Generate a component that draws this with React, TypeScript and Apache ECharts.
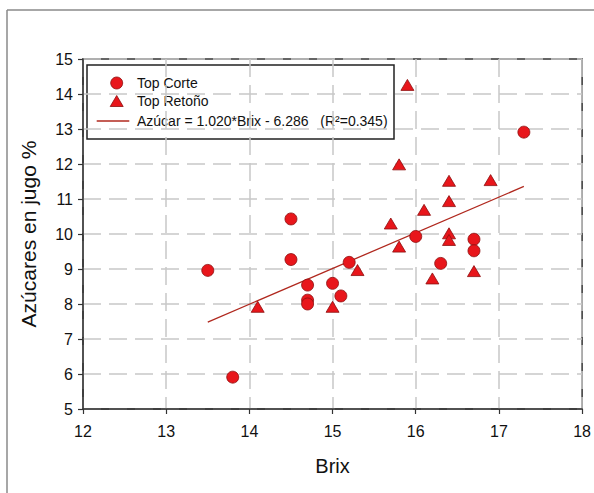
import React, { useEffect, useRef } from "react";
import * as echarts from "echarts";

// Top Corte samples: Brix and juice sugar (%)
const corteBrix = [13.5, 13.8, 14.5, 14.5, 14.7, 14.7, 14.7, 15.0, 15.1, 15.2, 16.0, 16.3, 16.7, 16.7, 17.3];
const corteAzucar = [8.96, 5.91, 10.43, 9.27, 8.54, 8.11, 8.0, 8.59, 8.23, 9.19, 9.93, 9.16, 9.85, 9.52, 12.91];

// Top Retoño samples
const retonoBrix = [14.1, 15.0, 15.3, 15.7, 15.8, 15.8, 15.9, 16.1, 16.2, 16.4, 16.4, 16.4, 16.4, 16.7, 16.9];
const retonoAzucar = [7.92, 7.92, 8.97, 10.3, 11.99, 9.64, 14.26, 10.69, 8.73, 11.52, 10.94, 10.02, 9.83, 8.94, 11.54];

// Fitted regression: Azúcar = slope * Brix + intercept, drawn over the Brix range of the data
const slope = 1.02;
const intercept = -6.286;
const fitRange = [13.5, 17.3];

const legendLabels = ["Top Corte", "Top Retoño", "Azúcar = 1.020*Brix - 6.286   (R²=0.345)"];

const FONT = "'Liberation Sans', Arial, Helvetica, sans-serif";
const AXIS_COLOR = "#333333";
const GRID_COLOR = "#c8c8c8";
const RED = "#e8161b";
const RED_EDGE = "#8c0f0f";
const FIT_COLOR = "#b0281e";

export default function App() {
  const ref = useRef<HTMLDivElement>(null);

  useEffect(() => {
    if (!ref.current) return;
    const chart = echarts.init(ref.current, undefined, { renderer: "svg" });

    const corteData = corteBrix.map((x, i) => [x, corteAzucar[i]]);
    const retonoData = retonoBrix.map((x, i) => [x, retonoAzucar[i]]);
    const fitData = fitRange.map((x) => [x, slope * x + intercept]);

    const axisCommon = {
      type: "value" as const,
      nameLocation: "middle" as const,
      axisLine: { show: true, lineStyle: { color: AXIS_COLOR, width: 1.5 } },
      axisTick: { show: true, length: 5, lineStyle: { color: AXIS_COLOR, width: 1.2 } },
      axisLabel: { fontSize: 16, color: "#111", fontFamily: FONT },
      splitLine: { show: true, lineStyle: { color: GRID_COLOR, width: 1.5, type: [18, 8] } },
    };

    // Boxed legend in the upper-left corner of the plot
    const lx = 87;
    const ly = 65;
    const iconX = 116.7;
    const textX = 137;
    const rowY = [83, 101, 121];
    const legendText = (i: number) => ({
      type: "text",
      x: textX,
      y: rowY[i],
      style: {
        text: legendLabels[i],
        fill: "#111",
        fontSize: 14,
        fontFamily: FONT,
        verticalAlign: "middle",
        align: "left",
      },
    });

    chart.setOption({
      animation: false,
      backgroundColor: "#ffffff",
      textStyle: { fontFamily: FONT },
      graphic: [
        { type: "line", shape: { x1: 7, y1: 10, x2: 600, y2: 10 }, style: { stroke: "#8a8a8a", lineWidth: 1.5 } },
        { type: "line", shape: { x1: 7, y1: 10, x2: 7, y2: 500 }, style: { stroke: "#8a8a8a", lineWidth: 1.5 } },
        {
          type: "group",
          z: 100,
          children: [
            {
              type: "rect",
              shape: { x: lx, y: ly, width: 307, height: 74 },
              style: { fill: "#ffffff", stroke: "#222222", lineWidth: 1.5 },
            },
            {
              type: "circle",
              shape: { cx: iconX, cy: rowY[0], r: 6 },
              style: { fill: RED, stroke: RED_EDGE, lineWidth: 0.8 },
            },
            {
              type: "polygon",
              shape: {
                points: [
                  [iconX, rowY[1] - 5.5],
                  [iconX + 6.5, rowY[1] + 5.5],
                  [iconX - 6.5, rowY[1] + 5.5],
                ],
              },
              style: { fill: RED, stroke: RED_EDGE, lineWidth: 0.8 },
            },
            {
              type: "line",
              shape: { x1: 96.7, y1: rowY[2], x2: 129.3, y2: rowY[2] },
              style: { stroke: FIT_COLOR, lineWidth: 1.3 },
            },
            legendText(0),
            legendText(1),
            legendText(2),
          ],
        },
      ],
      grid: {
        left: 83,
        right: 11,
        top: 59,
        bottom: 84,
        show: true,
        borderColor: AXIS_COLOR,
        borderWidth: 1.5,
        backgroundColor: "transparent",
      },
      xAxis: {
        ...axisCommon,
        min: 12,
        max: 18,
        interval: 1,
        name: "Brix",
        nameGap: 47,
        nameTextStyle: { fontSize: 20, color: "#111", fontFamily: FONT },
        axisLabel: { ...axisCommon.axisLabel, margin: 14 },
      },
      yAxis: {
        ...axisCommon,
        min: 5,
        max: 15,
        interval: 1,
        name: "Azúcares en jugo %",
        nameGap: 44,
        nameTextStyle: { fontSize: 21, color: "#111", fontFamily: FONT },
        axisLabel: { ...axisCommon.axisLabel, margin: 10 },
      },
      series: [
        {
          name: legendLabels[0],
          type: "scatter",
          symbol: "circle",
          symbolSize: 12,
          itemStyle: { color: RED, borderColor: RED_EDGE, borderWidth: 0.8, opacity: 1 },
          data: corteData,
          z: 4,
        },
        {
          name: legendLabels[1],
          type: "scatter",
          symbol: "triangle",
          symbolSize: [13, 11],
          itemStyle: { color: RED, borderColor: RED_EDGE, borderWidth: 0.8, opacity: 1 },
          data: retonoData,
          z: 4,
        },
        {
          name: legendLabels[2],
          type: "line",
          symbol: "none",
          lineStyle: { color: FIT_COLOR, width: 1.3 },
          itemStyle: { color: FIT_COLOR },
          data: fitData,
          z: 3,
        },
      ],
    });

    return () => chart.dispose();
  }, []);

  return (
    <div
      ref={ref}
      style={{ position: "fixed", left: 0, top: 0, width: 594, height: 493, overflow: "hidden", background: "#fff" }}
    />
  );
}
